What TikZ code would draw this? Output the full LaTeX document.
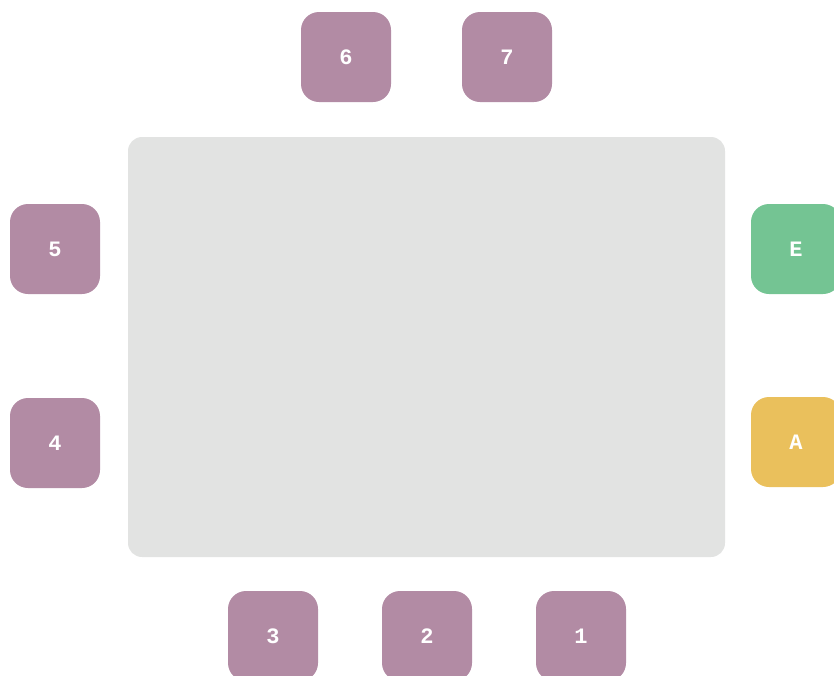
\documentclass[tikz,border=0pt]{standalone}
\usepackage{fontspec}
\setmonofont{Liberation Mono}
\definecolor{tablegray}{HTML}{E2E3E2}
\definecolor{seatplum}{HTML}{B28BA4}
\definecolor{seatgreen}{HTML}{74C493}
\definecolor{seatyellow}{HTML}{EAC05C}
\tikzset{
  seat/.style={minimum width=90pt, minimum height=90pt, inner sep=0pt,
    rounded corners=18pt, fill=seatplum, text=white,
    font=\ttfamily\bfseries\fontsize{22}{22}\selectfont},
}
\begin{document}
\begin{tikzpicture}[x=1pt, y=-1pt]
    \clip (0,0) rectangle (834,675);

    \coordinate (S1) at (581, 636);
    \coordinate (S2) at (427, 636);
    \coordinate (S3) at (273, 636);
    \coordinate (S4) at (55, 443);
    \coordinate (S5) at (55, 249);
    \coordinate (S6) at (346, 57);
    \coordinate (S7) at (507, 57);
    \coordinate (SE) at (796, 249);
    \coordinate (SA) at (796, 442);

    \fill[tablegray, rounded corners=14pt] (128,137) rectangle (725,557);

    \node[seat] (one) at (S1) {1};
    \node[seat] (two) at (S2) {2};
    \node[seat] (three) at (S3) {3};
    \node[seat] (four) at (S4) {4};
    \node[seat] (five) at (S5) {5};
    \node[seat] (six) at (S6) {6};
    \node[seat] (seven) at (S7) {7};
    \node[seat, fill=seatgreen] (exit) at (SE) {E};
    \node[seat, fill=seatyellow] (aisle) at (SA) {A};
  \end{tikzpicture}
\end{document}
